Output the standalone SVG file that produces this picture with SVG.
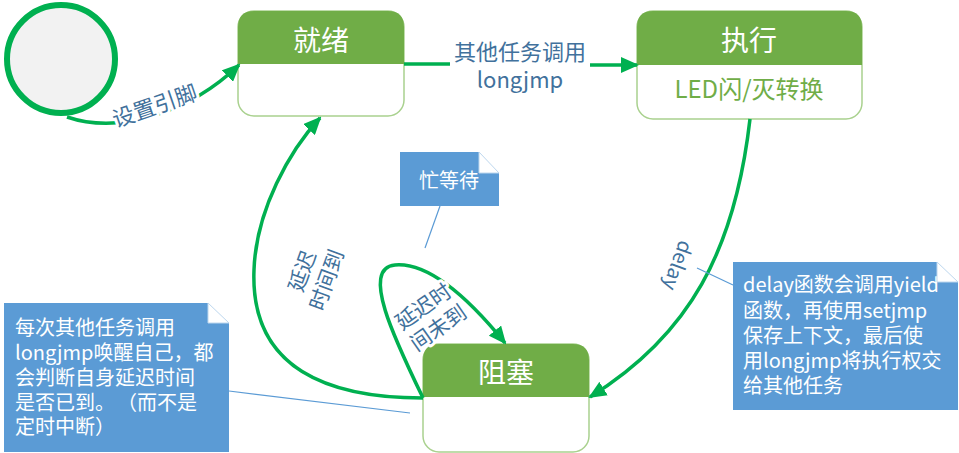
<svg xmlns="http://www.w3.org/2000/svg" width="959" height="453" viewBox="0 0 959 453">
<defs>
<style>
text{font-family:"Noto Sans CJK SC","Liberation Sans",sans-serif;}
.hdr{fill:#70ad47;}
.body{fill:#ffffff;stroke:#a9d18e;stroke-width:1.5;}
.title{fill:#ffffff;font-size:28px;text-anchor:middle;dominant-baseline:central;}
.conn{fill:none;stroke:#00b050;stroke-width:3.5;}
.lbl{fill:#41719c;font-size:21px;text-anchor:middle;dominant-baseline:central;paint-order:stroke;stroke:#ffffff;stroke-width:6px;stroke-linejoin:round;}
.note{fill:#5b9bd5;}
.fold{fill:#ffffff;stroke:#bdd7ee;stroke-width:1;}
.ntext{fill:#ffffff;font-size:20px;}
.lead{fill:none;stroke:#5b9bd5;stroke-width:1.2;}
</style>
<marker id="ah" viewBox="0 0 18 16" refX="16" refY="8" markerWidth="18" markerHeight="16" markerUnits="userSpaceOnUse" orient="auto">
<path d="M0,0 L18,8 L0,16 Z" fill="#00b050"/>
</marker>
</defs>
<rect width="959" height="453" fill="#ffffff"/>

<g id="start">
<circle cx="61" cy="59" r="54" fill="#f2f2f2" stroke="#00b050" stroke-width="6"/>
</g>

<g id="ready">
<rect class="body" x="238" y="11" width="166" height="105" rx="16"/>
<path class="hdr" d="M238,64 V27 Q238,11 254,11 H388 Q404,11 404,27 V64 Z"/>
<text class="title" x="321" y="39">就绪</text>
</g>

<g id="exec">
<rect class="body" x="637" y="11" width="225" height="108" rx="16"/>
<path class="hdr" d="M637,65 V27 Q637,11 653,11 H846 Q862,11 862,27 V65 Z"/>
<text class="title" x="749" y="39">执行</text>
<text x="749" y="87" fill="#70ad47" font-size="24" text-anchor="middle" dominant-baseline="central">LED闪/灭转换</text>
</g>

<g id="blocked">
<rect class="body" x="423" y="344" width="166" height="108" rx="16"/>
<path class="hdr" d="M423,397 V360 Q423,344 439,344 H573 Q589,344 589,360 V397 Z"/>
<text class="title" x="506" y="371">阻塞</text>
</g>

<g id="connectors">
<path class="conn" d="M67,117 C120,135 190,112 239,65" marker-end="url(#ah)"/>
<path class="conn" d="M404,64 L450,64"/>
<path class="conn" d="M590,65 L637,65" marker-end="url(#ah)"/>
<path class="conn" d="M750,119 C735,250 690,335 590,397" marker-end="url(#ah)"/>
<path class="conn" d="M423,398 C330,398 250,370 254,270 C256,210 290,150 320,118" marker-end="url(#ah)"/>
<path class="conn" d="M423,398 C395,340 360,268 395,265 C430,262 470,300 505,343" marker-end="url(#ah)"/>
<text class="lbl" transform="translate(154,104) rotate(-19)" style="font-size:22px">设置引脚</text>
<text class="lbl" x="520" y="50" style="font-size:22px">其他任务调用</text>
<text class="lbl" x="520" y="78" style="font-size:22px">longjmp</text>
<text class="lbl" transform="translate(679,266) rotate(110)" style="font-size:20px">delay</text>
<g transform="translate(313,275) rotate(-70)">
<text class="lbl" x="0" y="-13" style="font-size:21px">延迟</text>
<text class="lbl" x="0" y="13" style="font-size:21px">时间到</text>
</g>
<g transform="translate(430,316) rotate(-35)">
<text class="lbl" x="0" y="-13" style="font-size:21px">延迟时</text>
<text class="lbl" x="0" y="13" style="font-size:21px">间未到</text>
</g>
</g>

<g id="note-busy">
<line class="lead" x1="440" y1="206" x2="425" y2="248"/>
<path class="note" d="M400,152 H479 V173 H499 V206 H400 Z"/>
<path class="fold" d="M479,152 L499,173 L479,173 Z"/>
<text class="ntext" x="449" y="179" text-anchor="middle" dominant-baseline="central">忙等待</text>
</g>

<g id="note-delay">
<line class="lead" x1="697" y1="268" x2="733" y2="285"/>
<path class="note" d="M733,262 H937 V282 H958 V410 H733 Z"/>
<text class="ntext" x="743" y="292">delay函数会调用yield</text>
<text class="ntext" x="743" y="318">函数，再使用setjmp</text>
<text class="ntext" x="743" y="343">保存上下文，最后使</text>
<text class="ntext" x="743" y="368">用longjmp将执行权交</text>
<text class="ntext" x="743" y="393">给其他任务</text>
<path class="fold" d="M937,262 L958,282 L937,282 Z"/>
</g>

<g id="note-check">
<line class="lead" x1="229" y1="391" x2="410" y2="413"/>
<path class="note" d="M4,303 H208 V323 H229 V452 H4 Z"/>
<path class="fold" d="M208,303 L229,323 L208,323 Z"/>
<text class="ntext" x="15" y="335">每次其他任务调用</text>
<text class="ntext" x="15" y="360">longjmp唤醒自己，都</text>
<text class="ntext" x="15" y="385">会判断自身延迟时间</text>
<text class="ntext" x="15" y="410">是否已到。<tspan dx="12">（而不是</tspan></text>
<text class="ntext" x="15" y="434">定时中断）</text>
</g>
</svg>
